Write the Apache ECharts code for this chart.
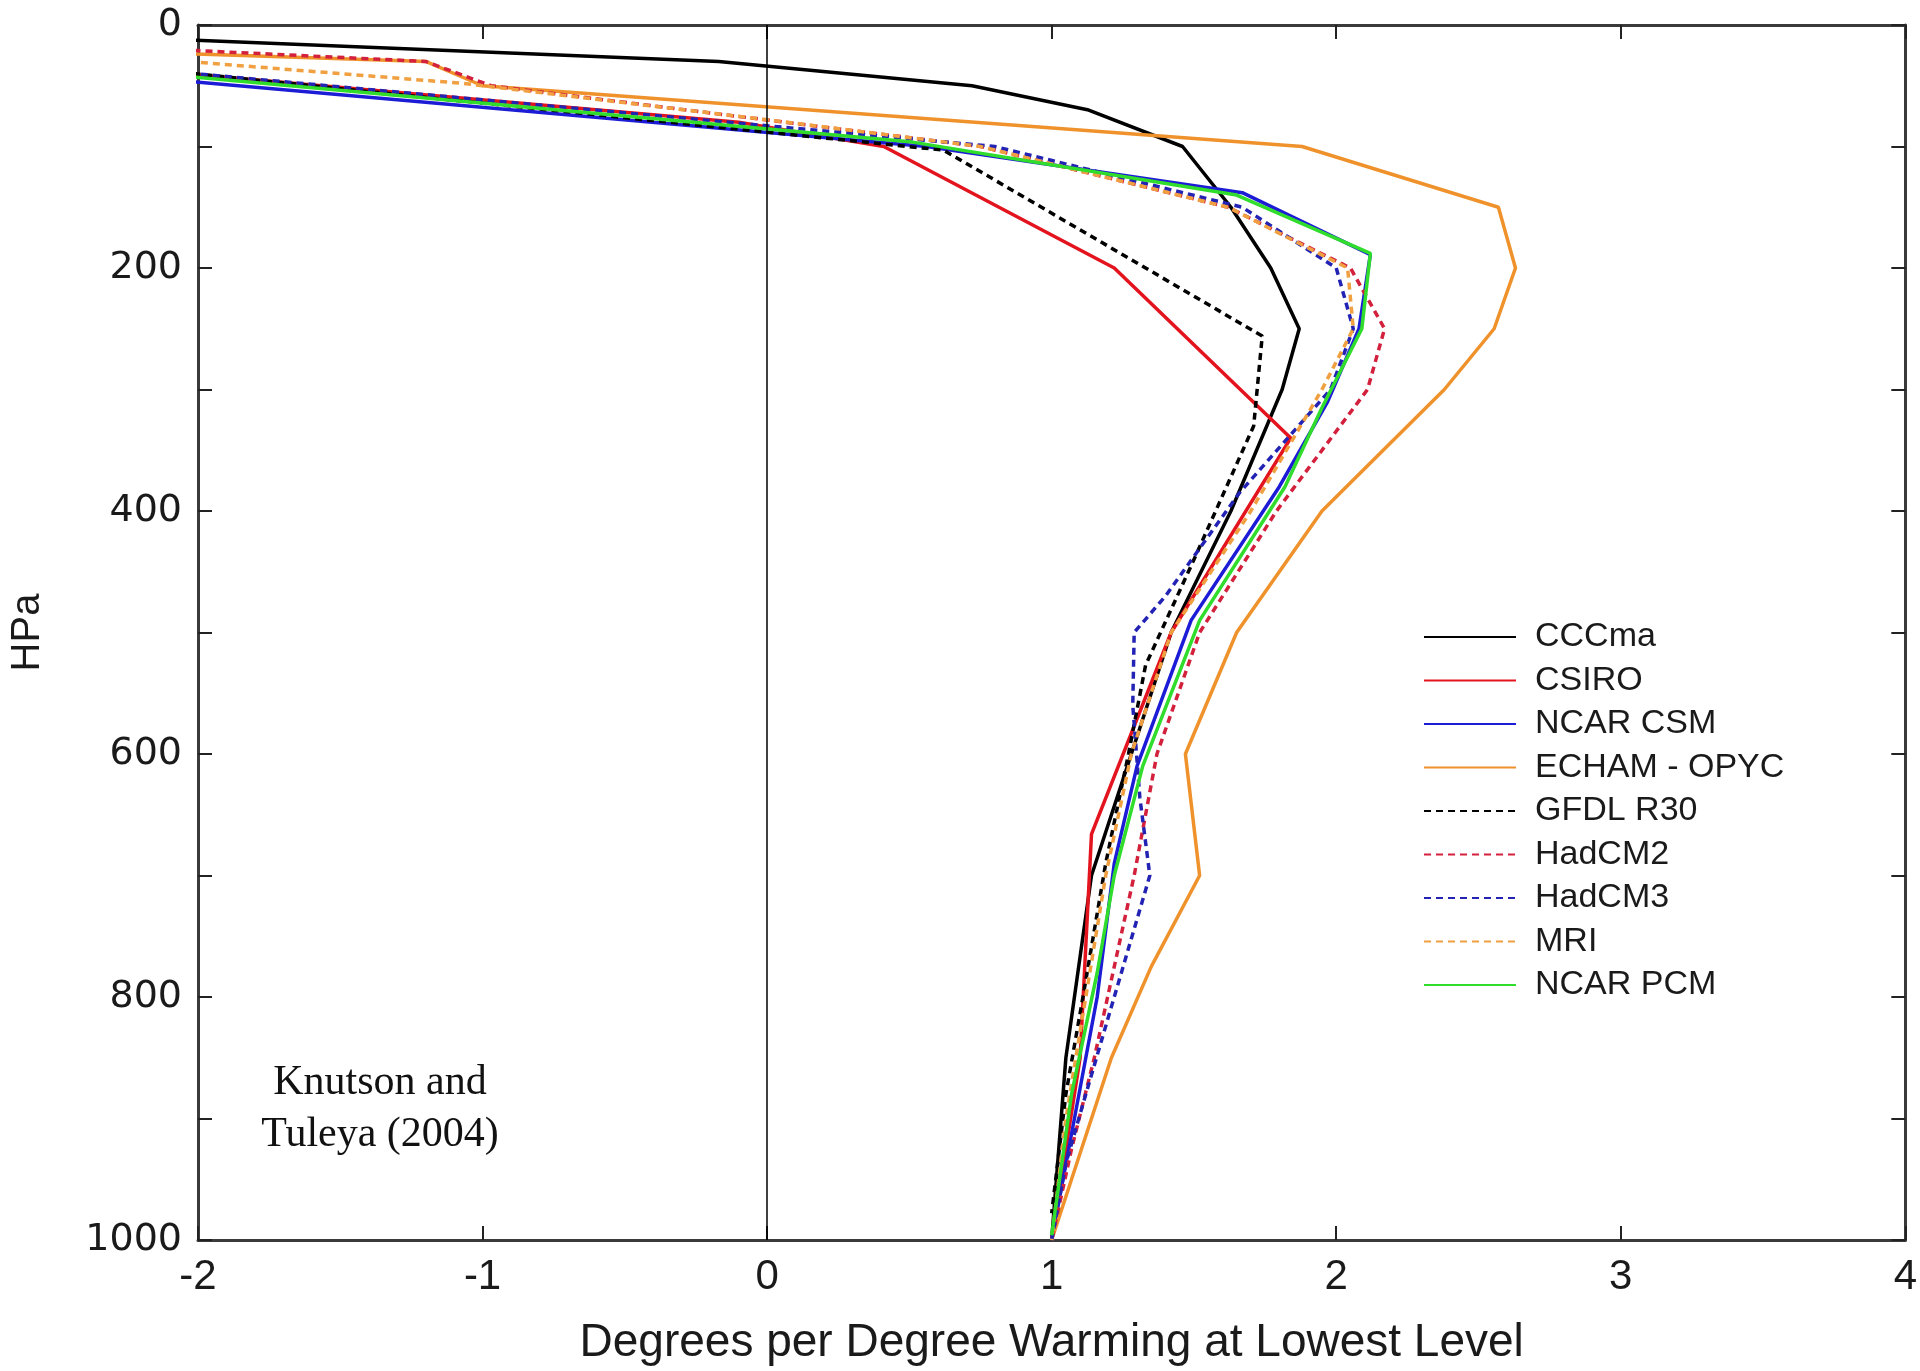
<!DOCTYPE html>
<html>
<head>
<meta charset="utf-8">
<title>Knutson and Tuleya (2004)</title>
<script src="https://cdn.jsdelivr.net/npm/echarts@6/dist/echarts.min.js"></script>
<style>
  html, body { margin: 0; padding: 0; background: #fff; }
  #myChart1 { width: 1920px; height: 1371px; }
</style>
</head>
<body>
<div id="myChart1"></div>
<script>
// pressure levels (hPa) and normalised warming for each model
const cccmaP = [10, 30, 50, 70, 100, 150, 200, 250, 300, 400, 500, 600, 700, 850, 1000]
const cccmaV = [-2.28, -0.17, 0.72, 1.13, 1.46, 1.63, 1.77, 1.87, 1.81, 1.63, 1.42, 1.28, 1.14, 1.05, 1.0]

const csiroP = [37, 80, 100, 200, 340, 500, 666, 850, 1000]
const csiroV = [-2.2, -0.1, 0.41, 1.22, 1.84, 1.42, 1.14, 1.10, 1.0]

const ncarCsmP = [45, 100, 138, 189, 250, 310, 380, 490, 610, 690, 800, 1000]
const ncarCsmV = [-2.1, 0.56, 1.67, 2.12, 2.08, 1.97, 1.80, 1.49, 1.30, 1.22, 1.16, 1.0]

const echamP = [20, 30, 50, 100, 150, 200, 250, 300, 400, 500, 600, 700, 775, 850, 1000]
const echamV = [-2.5, -1.2, -1.0, 1.88, 2.57, 2.63, 2.555, 2.38, 1.95, 1.65, 1.47, 1.52, 1.35, 1.21, 1.0]

const gfdlP = [38, 103, 256, 330, 440, 527, 600, 690, 800, 880, 978]
const gfdlV = [-2.1, 0.62, 1.74, 1.71, 1.50, 1.33, 1.27, 1.19, 1.11, 1.05, 1.0]

const hadcm2P = [20, 30, 50, 100, 150, 200, 250, 300, 400, 500, 600, 700, 850, 925, 1000]
const hadcm2V = [-2.1, -1.2, -0.97, 0.75, 1.62, 2.05, 2.17, 2.11, 1.79, 1.52, 1.37, 1.29, 1.15, 1.07, 1.0]

const hadcm3P = [36, 100, 150, 200, 250, 300, 385, 470, 500, 560, 636, 700, 780, 880, 937, 1000]
const hadcm3V = [-2.2, 0.8, 1.67, 2.0, 2.06, 1.98, 1.66, 1.40, 1.29, 1.285, 1.31, 1.345, 1.245, 1.12, 1.05, 1.0]

const mriP = [27, 48, 78, 100, 150, 200, 250, 300, 400, 500, 600, 700, 800, 900, 1000]
const mriV = [-2.2, -1.07, 0, 0.75, 1.62, 2.04, 2.06, 1.95, 1.70, 1.42, 1.28, 1.19, 1.12, 1.05, 1.0]

const ncarPcmP = [41, 96, 140, 188, 250, 315, 380, 490, 610, 700, 780, 880, 996]
const ncarPcmV = [-2.1, 0.5, 1.65, 2.12, 2.09, 1.95, 1.82, 1.52, 1.32, 1.22, 1.16, 1.07, 1.0]

const xTicks = [-2, -1, 0, 1, 2, 3, 4]
const yTicks = [0, 200, 400, 600, 800, 1000]

const FONT = '"Liberation Sans", Arial, Helvetica, sans-serif'

function pairs(values, levels) {
  return values.map((v, i) => [v, levels[i]])
}

function makeSeries(name, values, levels, color, dashed) {
  return {
    name: name,
    type: 'line',
    symbol: 'none',
    showSymbol: false,
    clip: true,
    color: color,
    lineStyle: {
      color: color,
      width: 3.5,
      type: dashed ? [7, 5] : 'solid'
    },
    data: pairs(values, levels)
  }
}

const series = [
  makeSeries('CCCma', cccmaV, cccmaP, '#000000', false),
  makeSeries('CSIRO', csiroV, csiroP, '#e3141e', false),
  makeSeries('NCAR CSM', ncarCsmV, ncarCsmP, '#1c1cd6', false),
  makeSeries('ECHAM - OPYC', echamV, echamP, '#ef922c', false),
  makeSeries('GFDL R30', gfdlV, gfdlP, '#000000', true),
  makeSeries('HadCM2', hadcm2V, hadcm2P, '#d3203c', true),
  makeSeries('HadCM3', hadcm3V, hadcm3P, '#2222b4', true),
  makeSeries('MRI', mriV, mriP, '#f0a040', true),
  makeSeries('NCAR PCM', ncarPcmV, ncarPcmP, '#30dc2c', false)
]

// zero line
series[0].markLine = {
  silent: true,
  symbol: ['none', 'none'],
  label: { show: false },
  lineStyle: { color: '#000', width: 1.5, type: 'solid' },
  data: [{ xAxis: 0 }]
}

const axisLine = { show: true, onZero: false, lineStyle: { color: '#3a3a3a', width: 3 } }
const tick = { show: true, inside: true, length: 14, lineStyle: { color: '#222', width: 2 } }

const myChart = echarts.init(document.getElementById('myChart1'))
myChart.setOption({
  animation: false,
  backgroundColor: '#ffffff',
  grid: { left: 193, right: 13, top: 25, bottom: 127 },
  legend: {
    orient: 'vertical',
    left: 1418,
    top: 614,
    itemWidth: 92,
    itemHeight: 14,
    itemGap: 7.5,
    selectedMode: false,
    itemStyle: { opacity: 0 },
    data: series.map(s => s.name),
    textStyle: {
      fontFamily: FONT,
      fontSize: 34,
      lineHeight: 36,
      color: '#1a1a1a',
      padding: [0, 0, 0, 14]
    }
  },
  graphic: [{
    type: 'text',
    x: 380,
    y: 1057,
    style: {
      text: 'Knutson and\nTuleya (2004)',
      align: 'center',
      verticalAlign: 'top',
      fontFamily: '"Liberation Serif", "Times New Roman", serif',
      fontSize: 42,
      lineHeight: 52,
      fill: '#111'
    }
  }],
  xAxis: [{
    type: 'value',
    min: xTicks[0],
    max: xTicks[xTicks.length - 1],
    interval: 1,
    position: 'bottom',
    name: 'Degrees per Degree Warming at Lowest Level',
    nameLocation: 'middle',
    nameGap: 80,
    nameTextStyle: { fontFamily: FONT, fontSize: 46, color: '#1a1a1a' },
    axisLine: axisLine,
    axisTick: tick,
    splitLine: { show: false },
    axisLabel: {
      fontFamily: '"Liberation Sans Narrow", "Liberation Sans", Arial, sans-serif',
      fontSize: 42,
      color: '#1a1a1a',
      margin: 16
    }
  }, {
    type: 'value',
    min: xTicks[0],
    max: xTicks[xTicks.length - 1],
    interval: 1,
    position: 'top',
    axisLine: axisLine,
    axisTick: tick,
    splitLine: { show: false },
    axisLabel: { show: false }
  }],
  yAxis: [{
    type: 'value',
    inverse: true,
    min: 0,
    max: 1000,
    interval: 100,
    position: 'left',
    name: 'HPa',
    nameLocation: 'middle',
    nameGap: 150,
    nameRotate: 90,
    nameTextStyle: { fontFamily: FONT, fontSize: 40, color: '#1a1a1a' },
    axisLine: axisLine,
    axisTick: tick,
    splitLine: { show: false },
    axisLabel: {
      fontFamily: '"DejaVu Sans", sans-serif',
      fontSize: 38,
      color: '#1a1a1a',
      margin: 16,
      formatter: v => (yTicks.indexOf(v) >= 0 ? String(v) : '')
    }
  }, {
    type: 'value',
    inverse: true,
    min: 0,
    max: 1000,
    interval: 100,
    position: 'right',
    axisLine: axisLine,
    axisTick: tick,
    splitLine: { show: false },
    axisLabel: { show: false }
  }],
  series: series
})
window.addEventListener('resize', function() {
  myChart.resize()
})
</script>
</body>
</html>
